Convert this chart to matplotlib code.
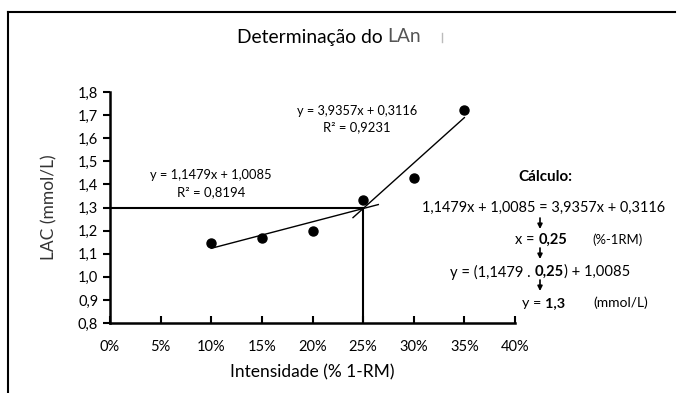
import matplotlib.pyplot as plt
from matplotlib.ticker import FuncFormatter

# Data
intensity = [0.10, 0.15, 0.20, 0.25, 0.30, 0.35]
lac = [1.146, 1.167, 1.198, 1.332, 1.428, 1.72]

# Trend lines (slope, intercept) and the x range each one is drawn over
fit_low = (1.1479, 1.0085)
fit_low_x = [0.10, 0.265]
fit_high = (3.9357, 0.3116)
fit_high_x = [0.24, 0.35]

# Threshold found from the intersection
lan_x = 0.25
lan_y = 1.3

x_ticks = [0.0, 0.05, 0.10, 0.15, 0.20, 0.25, 0.30, 0.35, 0.40]
y_ticks = [0.8, 0.9, 1.0, 1.1, 1.2, 1.3, 1.4, 1.5, 1.6, 1.7, 1.8]

W, H = 678, 393

plt.rcParams["font.family"] = ["Lato", "DejaVu Sans"]

fig = plt.figure(figsize=(W / 100, H / 100), dpi=100)
ax = fig.add_axes([110 / W, 1 - 323 / H, 405 / W, 231 / H])

ax.plot(intensity, lac, "o", color="black", markersize=6.5, zorder=3)

for fit, xs in ((fit_low, fit_low_x), (fit_high, fit_high_x)):
    ys = [fit[0] * v + fit[1] for v in xs]
    ax.plot(xs, ys, color="black", linewidth=1.0)

ax.plot([0, lan_x], [lan_y, lan_y], color="black", linewidth=1.5)
ax.plot([lan_x, lan_x], [0.8, lan_y], color="black", linewidth=1.5)

ax.set_xlim(0, 0.40)
ax.set_ylim(0.8, 1.8)
ax.set_xticks(x_ticks)
ax.set_yticks(y_ticks)
ax.xaxis.set_major_formatter(FuncFormatter(lambda v, p: f"{v * 100:.0f}%"))
ax.yaxis.set_major_formatter(
    FuncFormatter(lambda v, p: f"{v:.1f}".replace(".", ","))
)
ax.tick_params(axis="x", direction="in", length=5, width=1.5, labelsize=10.5, pad=12)
ax.tick_params(axis="y", direction="out", length=5, width=1.5, labelsize=10.5)
for side in ("top", "right"):
    ax.spines[side].set_visible(False)
for side in ("left", "bottom"):
    ax.spines[side].set_linewidth(1.8)
ax.set_xlabel("Intensidade (% 1-RM)", fontsize=12.5, labelpad=8)
ax.set_ylabel("LAC (mmol/L)", fontsize=12.5, labelpad=15, color="#333333")

# frame lines of the original picture (top and left only)
fig.add_artist(plt.Line2D([8 / W, 675 / W], [1 - 12 / H] * 2, color="black", lw=1.5))
fig.add_artist(plt.Line2D([8 / W] * 2, [0, 1 - 12 / H], color="black", lw=1.5))
fig.add_artist(plt.Line2D([442 / W] * 2, [1 - 33 / H, 1 - 42 / H], color="#bbbbbb", lw=1))

renderer = fig.canvas.get_renderer()


def text_run(x0, x1, y, parts):
    """Draw text pieces side by side, scaled to span x0..x1 pixels."""
    if isinstance(parts, str):
        parts = [(parts, "normal", "black")]
    probe = [fig.text(0, 0, s, fontsize=10, fontweight=w) for s, w, c in parts]
    total = sum(t.get_window_extent(renderer).width for t in probe)
    for t in probe:
        t.remove()
    size = 10 * (x1 - x0) / total
    x = x0
    for s, weight, color in parts:
        t = fig.text(x / W, 1 - y / H, s, fontsize=size, fontweight=weight,
                     color=color, va="center", ha="left")
        x += t.get_window_extent(renderer).width


text_run(237, 422, 37, [("Determinação do ", "normal", "black"),
                        ("LAn", "normal", "#555555")])

text_run(297, 417, 111, "y = 3,9357x + 0,3116")
text_run(323, 390, 127, "R² = 0,9231")
text_run(150, 272, 175, "y = 1,1479x + 1,0085")
text_run(177, 245, 192, "R² = 0,8194")

text_run(518, 572, 177, [("Cálculo:", "bold", "black")])
text_run(422, 665, 208, "1,1479x + 1,0085 = 3,9357x + 0,3116")
text_run(515, 567, 240, [("x = ", "normal", "black"), ("0,25", "bold", "black")])
text_run(592, 642, 240, "(%-1RM)")
text_run(450, 630, 272, [("y = (1,1479 . ", "normal", "black"), ("0,25", "bold", "black"),
                         (") + 1,0085", "normal", "black")])
text_run(522, 565, 303, [("y = ", "normal", "black"), ("1,3", "bold", "black")])
text_run(593, 648, 303, "(mmol/L)")

for y0 in (218, 248, 280):
    ax.annotate("", xy=(540 / W, 1 - (y0 + 11) / H), xytext=(540 / W, 1 - y0 / H),
                xycoords="figure fraction",
                arrowprops=dict(arrowstyle="-|>", color="black", lw=1.2,
                                mutation_scale=7, shrinkA=0, shrinkB=0))

fig.savefig("out.png", dpi=100)
